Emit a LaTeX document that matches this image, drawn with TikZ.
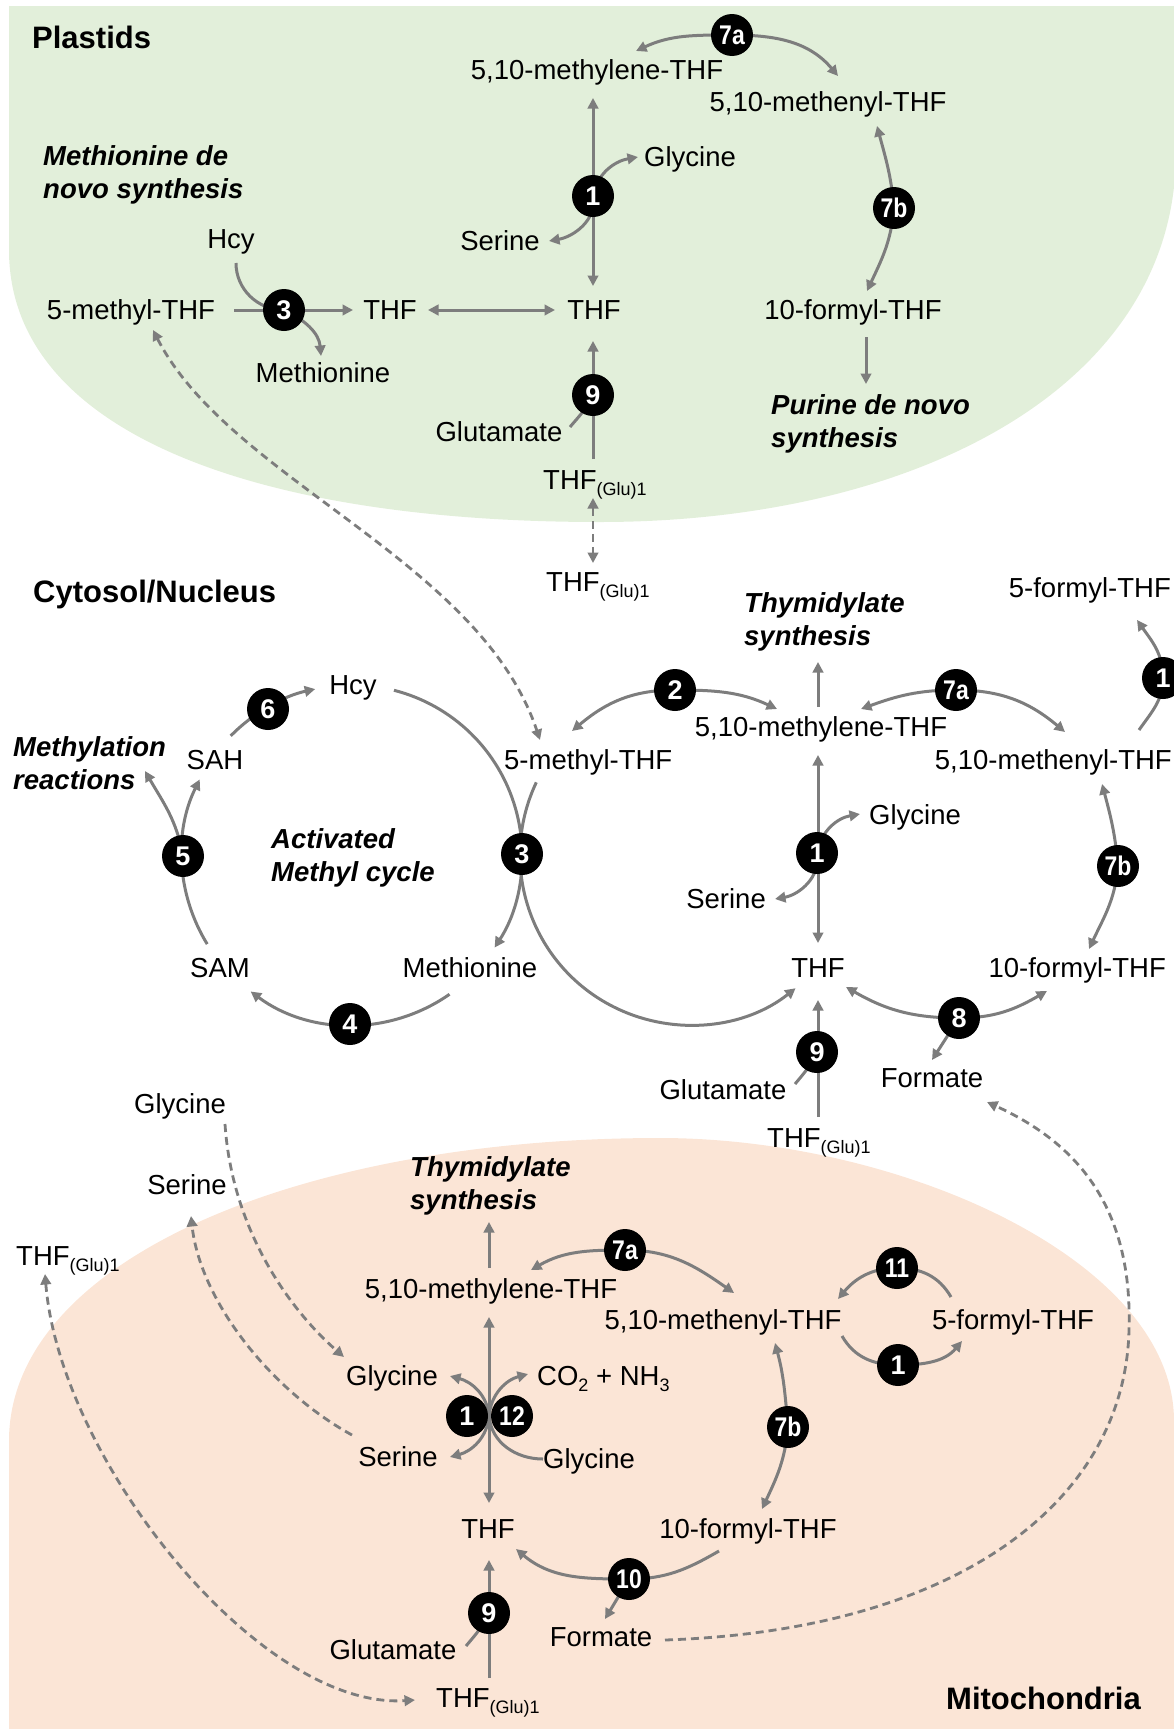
\documentclass[tikz,border=0pt]{standalone}
\usepackage{fontspec}
\usepackage{graphicx}
\setmainfont{Liberation Sans}
\usetikzlibrary{arrows.meta}
\pgfdeclarelayer{back}\pgfdeclarelayer{mid}\pgfsetlayers{back,mid,main}
\definecolor{lc}{RGB}{125,125,125}
\definecolor{plast}{RGB}{226,239,218}
\definecolor{mitoc}{RGB}{251,229,214}
\newcommand{\mysub}[1]{\raisebox{-6pt}{\fontsize{18}{18}\selectfont #1}}
\newcommand{\two}[1]{\scalebox{0.85}[1]{#1}}
\begin{document}
\begin{tikzpicture}[x=1pt,y=1pt,
 txt/.style={font=\fontsize{27.5}{33}\selectfont, inner sep=0pt, text height=19.5pt, text depth=0pt},
 bi/.style={font=\fontsize{27.5}{33}\selectfont\bfseries\itshape, inner sep=0pt, align=left, anchor=north west},
 ttl/.style={font=\fontsize{31}{36}\selectfont\bfseries, inner sep=0pt, text height=22pt, text depth=0pt},
 num/.style={circle, fill=black, minimum size=42pt, inner sep=0pt, text=white, font=\fontsize{27}{27}\selectfont\bfseries},
 ln/.style={draw=lc, line width=3pt},
 arr/.style={ln, -{Triangle[length=10.5pt,width=10.5pt]}},
 dbl/.style={ln, {Triangle[length=10.5pt,width=10.5pt]}-{Triangle[length=10.5pt,width=10.5pt]}},
 dsh/.style={draw=lc, line width=2.8pt, dash pattern=on 8pt off 5pt},
 dsharr/.style={dsh, -{Triangle[length=10.5pt,width=10.5pt]}},
 dshdbl/.style={dsh, {Triangle[length=10.5pt,width=10.5pt]}-{Triangle[length=10.5pt,width=10.5pt]}}
]
\useasboundingbox (0,0) rectangle (1174,-1729);
\begin{pgfonlayer}{back}
\fill[plast] (9,-6) -- (1174,-6) -- (1174,-187) .. controls (1150,-400) and (900,-522) .. (600,-522) .. controls (250,-522) and (9,-430) .. (9,-250) -- cycle;
\fill[mitoc] (9,-1729) -- (9,-1441) .. controls (9,-1260) and (300,-1138) .. (660,-1138) .. controls (900,-1138) and (1174,-1260) .. (1174,-1421) -- (1174,-1729) -- cycle;
\end{pgfonlayer}

% ---------------- Plastids ----------------
\node[ttl, anchor=west] (pT) at (32,-37) {Plastids};
\node[txt] (pMle) at (597,-70) {5,10-methylene-THF};
\node[txt] (pMny) at (828,-102) {5,10-methenyl-THF};
\node[bi] (pMdn) at (43,-145) {Methionine de\\novo synthesis};
\node[txt, anchor=west] (pGly) at (644,-157) {Glycine};
\node[txt, anchor=east] (pSer) at (540,-241) {Serine};
\node[txt] (pHcy) at (231,-239) {Hcy};
\node[txt] (pMT) at (131,-310) {5-methyl-THF};
\node[txt] (pTa) at (390,-310) {THF};
\node[txt] (pTb) at (594,-310) {THF};
\node[txt] (pFT) at (853,-310) {10-formyl-THF};
\node[txt] (pMet) at (323,-373) {Methionine};
\node[bi] (pPur) at (771,-394) {Purine de novo\\synthesis};
\node[txt] (pGlu) at (499,-432) {Glutamate};
\node[txt, anchor=west] (pTG) at (543,-480) {THF\mysub{(Glu)1}};
\node[num] (p7a) at (732,-35) {\two{7a}};
\node[num] (p1) at (593,-196) {1};
\node[num] (p7b) at (894,-208) {\two{7b}};
\node[num] (p3) at (284,-310) {3};
\node[num] (p9) at (593,-395) {9};

% ---------------- Cytosol ----------------
\node[ttl, anchor=west] (cT) at (33,-591) {Cytosol/Nucleus};
\node[txt, anchor=west] (cTG) at (546,-582) {THF\mysub{(Glu)1}};
\node[bi] (cThy) at (744,-592) {Thymidylate\\synthesis};
\node[txt, anchor=east] (cFo) at (1171,-588) {5-formyl-THF};
\node[txt] (cHcy) at (353,-685) {Hcy};
\node[txt] (cMle) at (821,-727) {5,10-methylene-THF};
\node[bi] (cMr) at (13,-736) {Methylation\\reactions};
\node[txt] (cSAH) at (215,-760) {SAH};
\node[txt, anchor=west] (cMT) at (504,-760) {5-methyl-THF};
\node[txt, anchor=east] (cMny) at (1172,-760) {5,10-methenyl-THF};
\node[txt, anchor=west] (cGly) at (869,-815) {Glycine};
\node[bi] (cAct) at (271,-828) {Activated\\Methyl cycle};
\node[txt, anchor=east] (cSer) at (766,-899) {Serine};
\node[txt] (cSAM) at (220,-968) {SAM};
\node[txt] (cMet) at (470,-968) {Methionine};
\node[txt] (cTHF) at (818,-968) {THF};
\node[txt, anchor=east] (cFT) at (1166,-968) {10-formyl-THF};
\node[txt] (cFor) at (932,-1078) {Formate};
\node[txt] (cGlu) at (723,-1090) {Glutamate};
\node[txt] (cGlyO) at (180,-1104) {Glycine};
\node[txt, anchor=west] (cTG2) at (767,-1138) {THF\mysub{(Glu)1}};
\node[num] (c6) at (268,-709) {6};
\node[num] (c2) at (675,-690) {2};
\node[num] (c7a) at (956,-690) {\two{7a}};
\node[num] (c1e) at (1163,-678) {1};
\node[num] (c5) at (183,-856) {5};
\node[num] (c3) at (522,-854) {3};
\node[num] (c1) at (817,-853) {1};
\node[num] (c7b) at (1118,-866) {\two{7b}};
\node[num] (c4) at (350,-1024) {4};
\node[num] (c8) at (959,-1018) {8};
\node[num] (c9) at (817,-1052) {9};

% ---------------- Mitochondria ----------------
\node[txt] (mSerO) at (187,-1185) {Serine};
\node[bi] (mThy) at (410,-1156) {Thymidylate\\synthesis};
\node[txt, anchor=west] (mTGL) at (16,-1256) {THF\mysub{(Glu)1}};
\node[txt] (mMle) at (491,-1289) {5,10-methylene-THF};
\node[txt] (mMny) at (723,-1320) {5,10-methenyl-THF};
\node[txt] (mFo) at (1013,-1320) {5-formyl-THF};
\node[txt, anchor=east] (mGly) at (438,-1376) {Glycine};
\node[txt, anchor=west] (mCO) at (537,-1376) {CO\mysub{2} + NH\mysub{3}};
\node[txt, anchor=east] (mSer) at (438,-1457) {Serine};
\node[txt, anchor=west] (mGly2) at (543,-1459) {Glycine};
\node[txt] (mTHF) at (488,-1529) {THF};
\node[txt] (mFT) at (748,-1529) {10-formyl-THF};
\node[txt] (mFor) at (601,-1637) {Formate};
\node[txt] (mGlu) at (393,-1650) {Glutamate};
\node[txt, anchor=west] (mTG) at (436,-1698) {THF\mysub{(Glu)1}};
\node[ttl, anchor=east] (mT) at (1141,-1698) {Mitochondria};
\node[num] (m7a) at (625,-1250) {\two{7a}};
\node[num] (m11) at (897,-1268) {\two{11}};
\node[num] (m1r) at (898,-1365) {1};
\node[num] (m1) at (467,-1416) {1};
\node[num] (m12) at (512,-1416) {\two{12}};
\node[num] (m7b) at (788,-1427) {\two{7b}};
\node[num] (m10) at (629,-1579) {\two{10}};
\node[num] (m9) at (489,-1613) {9};

\begin{pgfonlayer}{mid}
% plastid connectors
\coordinate (pa1) at (636,-51); \coordinate (pa2) at (838,-76);
\draw[arr] (p7a.center) to[out=180,in=25] (pa1);
\draw[arr] (p7a.center) to[out=0,in=130] (pa2);
\coordinate (pv1) at (593,-98); \coordinate (pv2) at (593,-286);
\draw[dbl] (pv1) -- (pv2);
\coordinate (pg) at (638,-157); \draw[arr] (p1.center) to[out=80,in=190] (pg);
\coordinate (ps) at (549,-241); \draw[arr] (p1.center) to[out=-80,in=10] (ps);
\coordinate (pb1) at (877,-126); \coordinate (pb2) at (867,-291);
\draw[arr] (p7b.center) to[out=95,in=-75] (pb1);
\draw[arr] (p7b.center) to[out=-95,in=65] (pb2);
\coordinate (ph1) at (234,-310); \coordinate (ph2) at (353,-310);
\draw[arr] (ph1) -- (ph2);
\coordinate (hc) at (236,-263); \draw[ln] (hc) to[out=-90,in=180] (p3.center);
\coordinate (pm) at (321,-356); \draw[arr] (p3.center) to[out=-25,in=95] (pm);
\coordinate (pd1) at (428,-310); \coordinate (pd2) at (555,-310);
\draw[dbl] (pd1) -- (pd2);
\coordinate (p9a) at (593,-341); \coordinate (p9b) at (593,-459);
\draw[arr] (p9b) -- (p9a);
\coordinate (pgl) at (570,-427); \draw[ln] (p9.center) to[out=-115,in=50] (pgl);
\coordinate (pp1) at (866,-337); \coordinate (pp2) at (866,-384);
\draw[arr] (pp1) -- (pp2);
\coordinate (x1) at (593,-498); \coordinate (x2) at (593,-563);
\draw[dshdbl] (x1) -- (x2);
\coordinate (y1) at (153,-330); \coordinate (y2) at (540,-740);
\draw[dshdbl] (y1) .. controls (230,-480) and (480,-560) .. (y2);

% cytosol connectors
\coordinate (ring) at (352,-855);
\draw[arr] ([shift={(75.7:170pt)}]ring) arc[start angle=75.7,end angle=-33,radius=170pt];
\draw[arr] ([shift={(-55:170pt)}]ring) arc[start angle=-55,end angle=-126.6,radius=170pt];
\draw[arr] ([shift={(-148.4:170pt)}]ring) arc[start angle=-148.4,end angle=-206.4,radius=170pt];
\draw[arr] ([shift={(135.5:170pt)}]ring) arc[start angle=135.5,end angle=102.5,radius=170pt];
\coordinate (mr) at (145,-771); \draw[arr] (c5.center) to[out=100,in=-60] (mr);
\coordinate (ring2) at (690,-855);
\draw[arr] ([shift={(154.7:170pt)}]ring2) arc[start angle=154.7,end angle=308.4,radius=170pt];
\coordinate (c2L) at (572,-731); \coordinate (c2R) at (777,-709);
\draw[arr] (c2.center) to[out=180,in=40] (c2L);
\draw[arr] (c2.center) to[out=0,in=155] (c2R);
\coordinate (c7L) at (861,-709); \coordinate (c7R) at (1065,-732);
\draw[arr] (c7a.center) to[out=180,in=20] (c7L);
\draw[arr] (c7a.center) to[out=0,in=140] (c7R);
\coordinate (ce1) at (1139,-730); \coordinate (ce2) at (1137,-620);
\draw[arr] (ce1) to[out=55,in=-90] (c1e.center) to[out=90,in=-55] (ce2);
\coordinate (ct1) at (818,-707); \coordinate (ct2) at (818,-662);
\draw[arr] (ct1) -- (ct2);
\coordinate (cv1) at (818,-755); \coordinate (cv2) at (818,-943);
\draw[dbl] (cv1) -- (cv2);
\coordinate (cg) at (860,-814); \draw[arr] (c1.center) to[out=80,in=190] (cg);
\coordinate (cs) at (775,-899); \draw[arr] (c1.center) to[out=-80,in=10] (cs);
\coordinate (cb1) at (1102,-784); \coordinate (cb2) at (1089,-949);
\draw[arr] (c7b.center) to[out=95,in=-75] (cb1);
\draw[arr] (c7b.center) to[out=-95,in=65] (cb2);
\coordinate (c8L) at (846,-987); \coordinate (c8R) at (1047,-991);
\draw[arr] (c8.center) to[out=180,in=-30] (c8L);
\draw[arr] (c8.center) to[out=0,in=-150] (c8R);
\coordinate (cf) at (932,-1060); \draw[arr] (c8.center) -- (cf);
\coordinate (c9a) at (818,-1000); \coordinate (c9b) at (818,-1117);
\draw[arr] (c9b) -- (c9a);
\coordinate (cgl) at (795,-1084); \draw[ln] (c9.center) to[out=-115,in=50] (cgl);

% mitochondria connectors
\coordinate (mt1) at (489,-1268); \coordinate (mt2) at (489,-1222);
\draw[arr] (mt1) -- (mt2);
\coordinate (m7L) at (531,-1270); \coordinate (m7R) at (734,-1293);
\draw[arr] (m7a.center) to[out=180,in=30] (m7L);
\draw[arr] (m7a.center) to[out=0,in=145] (m7R);
\coordinate (m11a) at (951,-1297); \coordinate (m11b) at (838,-1299);
\draw[arr] (m11a) to[out=120,in=0] (m11.center) to[out=180,in=50] (m11b);
\coordinate (m1a) at (842,-1336); \coordinate (m1b) at (962,-1341);
\draw[arr] (m1a) to[out=-60,in=180] (m1r.center) to[out=0,in=-130] (m1b);
\coordinate (mv1) at (489,-1317); \coordinate (mv2) at (489,-1503);
\draw[dbl] (mv1) -- (mv2);
\coordinate (mj) at (489,-1416);
\coordinate (mgA) at (450,-1376); \draw[arr] (mj) to[out=95,in=-15] (mgA);
\coordinate (msA) at (450,-1457); \draw[arr] (mj) to[out=-95,in=15] (msA);
\coordinate (mcA) at (528,-1374); \draw[arr] (mj) to[out=85,in=195] (mcA);
\coordinate (mgB) at (543,-1459); \draw[ln] (mgB) to[out=180,in=-85] (mj);
\coordinate (mb1) at (775,-1343); \coordinate (mb2) at (762,-1509);
\draw[arr] (m7b.center) to[out=95,in=-75] (mb1);
\draw[arr] (m7b.center) to[out=-95,in=65] (mb2);
\coordinate (m10a) at (719,-1551); \coordinate (m10b) at (516,-1549);
\draw[arr] (m10a) to[out=-150,in=0] (m10.center) to[out=180,in=-40] (m10b);
\coordinate (mf) at (605,-1619); \draw[arr] (m10.center) -- (mf);
\coordinate (m9a) at (489,-1560); \coordinate (m9b) at (489,-1678);
\draw[arr] (m9b) -- (m9a);
\coordinate (mgl) at (466,-1646); \draw[ln] (m9.center) to[out=-115,in=50] (mgl);
% dashed transport
\coordinate (dg1) at (225,-1124); \coordinate (dg2) at (344,-1357);
\draw[dsharr] (dg1) .. controls (232,-1230) and (290,-1310) .. (dg2);
\coordinate (ds1) at (352,-1435); \coordinate (ds2) at (191,-1216);
\draw[dsharr] (ds1) .. controls (270,-1390) and (200,-1300) .. (ds2);
\coordinate (dt1) at (45,-1274); \coordinate (dt2) at (415,-1700);
\draw[dshdbl] (dt1) .. controls (60,-1460) and (260,-1710) .. (dt2);
\coordinate (df1) at (665,-1640); \coordinate (df2) at (987,-1102);
\draw[dsharr] (df1) .. controls (960,-1630) and (1125,-1500) .. (1129,-1330) .. controls (1133,-1200) and (1070,-1140) .. (df2);
\end{pgfonlayer}
\end{tikzpicture}
\end{document}
